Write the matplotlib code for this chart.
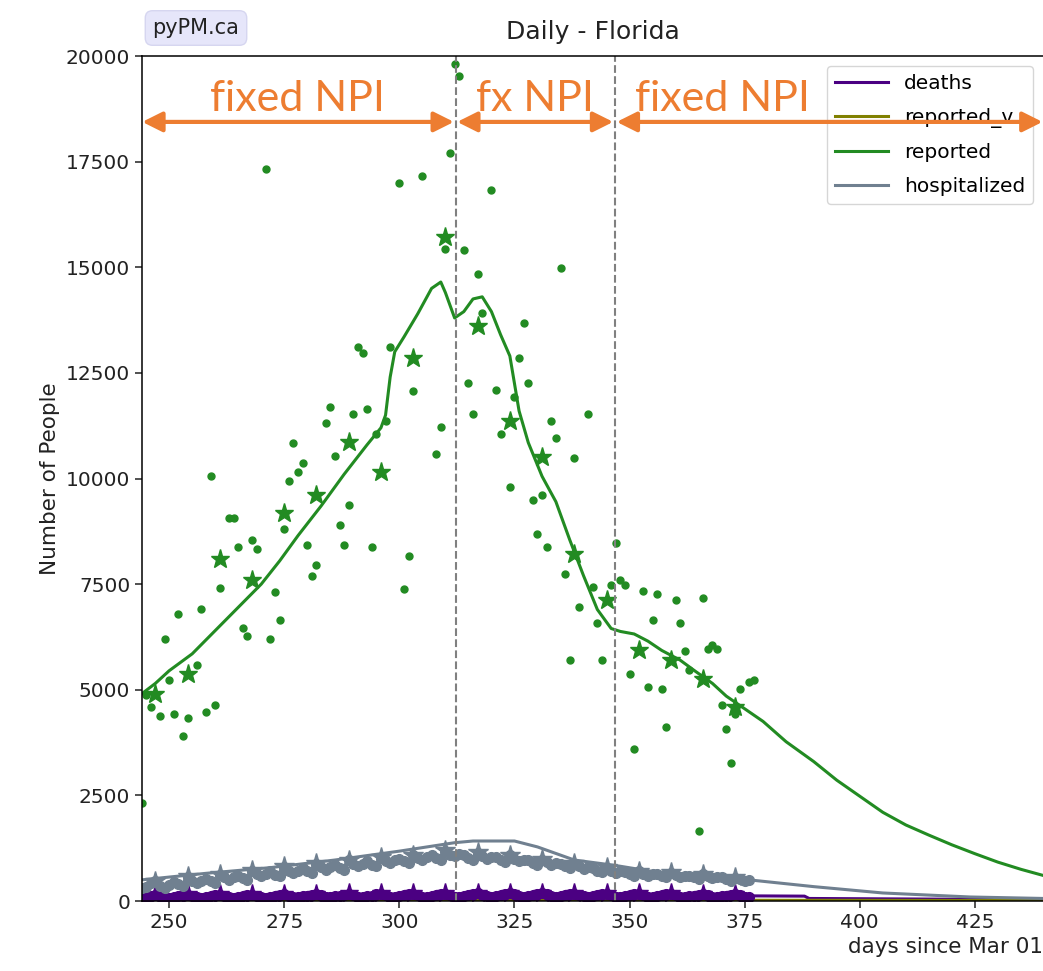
import numpy as np
import matplotlib
matplotlib.use('Agg')
import matplotlib.pyplot as plt

# --- reported cases, daily points (day since Mar 01, cases) ---
rep_days = [244, 245, 246, 248, 249, 250, 251, 252, 253, 254, 256, 257, 258, 259, 260,
            261, 263, 264, 265, 266, 267, 268, 269, 271, 272, 273, 274, 275, 276, 277,
            278, 279, 280, 281, 282, 284, 285, 286, 287, 288, 289, 290, 291, 292, 293,
            294, 295, 297, 298, 300, 301, 302, 303, 305, 308, 309, 310, 311, 312, 313,
            314, 315, 316, 317, 318, 320, 321, 322, 324, 325, 326, 327, 328, 329, 330,
            331, 332, 333, 334, 335, 336, 337, 338, 339, 341, 342, 343, 344, 346, 347,
            348, 349, 350, 351, 353, 354, 355, 356, 357, 358, 360, 361, 362, 363, 365,
            366, 367, 368, 369, 370, 371, 372, 373, 374, 376, 377]
rep_vals = [2317, 4870, 4594, 4378, 6210, 5225, 4434, 6801, 3906, 4331, 5579, 6903, 4473, 10063, 4634,
            7407, 9061, 9061, 8376, 6470, 6272, 8534, 8322, 17320, 6210, 7313, 6643, 8794, 9946, 10844,
            10149, 10371, 8433, 7690, 7960, 11316, 11686, 10527, 8903, 8416, 9378, 11529, 13104, 12963, 11647,
            8376, 11055, 11371, 13104, 16990, 7376, 8163, 12064, 17162, 10590, 11212, 15427, 17713, 19811, 19527,
            15412, 12262, 11529, 14838, 13908, 16832, 12104, 11055, 9795, 11922, 12844, 13681, 12262, 9480, 8691,
            9598, 8376, 11371, 10950, 14988, 7746, 5697, 10478, 6958, 11529, 7430, 6588, 5697, 7470, 8479,
            7589, 7485, 5383, 3593, 7329, 5067, 6643, 7272, 5012, 4118, 7116, 6588, 5910, 5461, 1655,
            7170, 5957, 6052, 5957, 4634, 4066, 3278, 4434, 5012, 5184, 5225]

# weekly markers (stars)
week_days = [247, 254, 261, 268, 275, 282, 289, 296, 303, 310, 317, 324, 331, 338, 345,
             352, 359, 366, 373]
rep_week = [4908, 5383, 8085, 7589, 9180, 9598, 10858, 10149, 12852, 15705, 13617, 11371,
            10502, 8219, 7116, 5934, 5697, 5265, 4594]

# model curve for reported
mod_days = [244, 247, 250, 255, 260, 265, 270, 274, 278, 283, 288, 293, 296, 297, 298,
            299, 301, 304, 307, 309, 310, 312, 314, 316, 318, 320, 322, 324, 325, 326,
            328, 331, 334, 337, 340, 343, 346, 348, 351, 354, 357, 361, 364, 368, 371,
            375, 379, 384, 390, 395, 400, 405, 410, 415, 420, 425, 430, 435, 440]
mod_rep = [4900, 5150, 5450, 5850, 6400, 6950, 7500, 8050, 8650, 9350, 10100, 10800, 11200, 11500, 12400,
           13000, 13350, 13900, 14500, 14650, 14400, 13800, 13950, 14250, 14300, 13950, 13400, 12900, 12250, 11600,
           10850, 10050, 9450, 8550, 7700, 6900, 6450, 6380, 6320, 6150, 5930, 5700, 5460, 5150, 4850,
           4550, 4250, 3770, 3300, 2860, 2480, 2100, 1800, 1560, 1330, 1120, 920, 750, 600]

# hospitalized data (daily, days 244..376)
hosp_start = 244
hosp_vals = [300, 330, 420, 480, 360, 310, 380,
             440, 400, 350, 560, 470, 420, 480,
             520, 470, 430, 620, 560, 500, 560,
             600, 540, 500, 720, 640, 580, 640,
             700, 620, 580, 800, 720, 660, 720,
             780, 700, 660, 880, 800, 740, 800,
             860, 780, 740, 960, 880, 820, 880,
             940, 860, 820, 1020, 950, 900, 960,
             1000, 940, 900, 1080, 1020, 960, 1040,
             1080, 1020, 980, 1180, 1100, 1060, 1120,
             1100, 1020, 980, 1130, 1060, 1000, 1050,
             1050, 980, 930, 1080, 1000, 940, 980,
             960, 900, 850, 980, 920, 860, 900,
             880, 820, 780, 880, 820, 760, 800,
             780, 720, 680, 790, 720, 670, 700,
             690, 640, 600, 700, 650, 600, 640,
             640, 590, 560, 670, 610, 560, 600,
             600, 560, 520, 630, 580, 540, 560,
             560, 520, 480, 550, 520, 480, 500]
hosp_week = [480, 580, 650, 740, 820, 900, 980, 1050, 1100, 1200, 1150, 1100, 1000, 900,
             800, 720, 680, 640, 560]
hosp_mod_days = [244, 258, 272, 286, 300, 312, 316, 325, 330, 338, 347, 356, 365, 376,
                 390, 405, 424, 440]
hosp_mod = [500, 655, 790, 970, 1180, 1380, 1420, 1420, 1280, 970, 840, 680, 580, 500,
            340, 190, 95, 60]

# deaths data (daily, days 244..376)
death_vals = [90, 105, 125, 135, 115, 80, 70,
              95, 110, 130, 140, 120, 85, 75,
              100, 115, 135, 145, 125, 90, 80,
              100, 120, 140, 150, 130, 90, 80,
              105, 120, 145, 155, 130, 95, 85,
              110, 125, 150, 160, 135, 95, 85,
              110, 130, 150, 165, 140, 100, 90,
              115, 130, 155, 165, 140, 100, 90,
              115, 135, 160, 170, 145, 105, 95,
              120, 140, 160, 175, 150, 105, 95,
              125, 140, 165, 180, 150, 110, 100,
              125, 145, 165, 180, 155, 110, 100,
              125, 145, 170, 180, 155, 110, 100,
              125, 140, 165, 175, 150, 110, 100,
              120, 140, 160, 175, 150, 105, 95,
              120, 135, 160, 170, 145, 105, 95,
              115, 135, 155, 165, 140, 100, 90,
              115, 130, 150, 160, 140, 100, 90,
              110, 125, 150, 160, 135, 95, 85]
death_week = [150, 155, 160, 165, 170, 175, 180, 180, 185, 190, 195, 195, 200, 195, 190,
              185, 180, 175, 170]
death_mod_days = [244, 270, 300, 330, 360, 388, 389, 424, 440]
death_mod = [105, 115, 125, 135, 130, 115, 60, 40, 30]

repv_days = [244, 300, 350, 440]
repv_mod = [12, 20, 20, 12]

# NPI periods
npi_breaks = [312.2, 346.8]
npi_labels = ['fixed NPI', 'fx NPI', 'fixed NPI']

c_death = '#4B0082'
c_repv = '#808000'
c_rep = '#228B22'
c_hosp = '#708090'
orange = '#ED7D31'

fig = plt.figure(figsize=(10.43, 9.71), dpi=100)
ax = fig.add_axes([142/1043, 70/971, (1043-142)/1043, 845/971])

hosp_days = np.arange(hosp_start, hosp_start + len(hosp_vals))
death_days = np.arange(hosp_start, hosp_start + len(death_vals))

# model lines
ax.plot(death_mod_days, death_mod, color=c_death, lw=2.2, label='deaths')
ax.plot(repv_days, repv_mod, color=c_repv, lw=2.2, label='reported_v')
ax.plot(mod_days, mod_rep, color=c_rep, lw=2.2, label='reported')
ax.plot(hosp_mod_days, hosp_mod, color=c_hosp, lw=2.2, label='hospitalized')

# data
ax.plot(death_days, death_vals, 'o', color=c_death, ms=7)
ax.plot(week_days, death_week, '*', color=c_death, ms=14)
ax.plot(hosp_days, hosp_vals, 'o', color=c_hosp, ms=7)
ax.plot(hosp_days, hosp_vals, '-', color=c_hosp, lw=3)
ax.plot(week_days, hosp_week, '*', color=c_hosp, ms=15)
ax.plot(rep_days, rep_vals, 'o', color=c_rep, ms=5)
ax.plot(week_days, rep_week, '*', color=c_rep, ms=14)

for b in npi_breaks:
    ax.axvline(b, color='gray', ls='--', lw=1.5)

ax.set_xlim(244.1, 439.8)
ax.set_ylim(0, 20000)
ax.set_xticks([250, 275, 300, 325, 350, 375, 400, 425])
ax.set_yticks(np.arange(0, 20001, 2500))
ax.tick_params(labelsize=14.5, length=5, width=1.1, colors='#222222')
for s in ax.spines.values():
    s.set_linewidth(1.1)
ax.spines['right'].set_visible(False)

ax.set_title('Daily - Florida', fontsize=18, pad=12, color='#222222')
ax.set_xlabel('days since Mar 01', fontsize=15.5, loc='right', color='#222222')
ax.set_ylabel('Number of People', fontsize=15.5, color='#222222')

leg = ax.legend(loc='upper right', fontsize=14.5, handlelength=2.6, labelspacing=0.75)
leg.set_zorder(4)

# NPI annotations
y_arrow = 18440
edges = [244.15, npi_breaks[0], npi_breaks[1], 439.7]
gaps = [0, 0.35, 0.4]
for i in range(3):
    x0 = edges[i] + gaps[i]
    x1 = edges[i + 1] - (0.35 if i < 2 else 0)
    ax.annotate('', xy=(x1, y_arrow), xytext=(x0, y_arrow),
                arrowprops=dict(arrowstyle='<|-|>', mutation_scale=30, lw=3,
                                color=orange, shrinkA=0, shrinkB=0),
                zorder=6, annotation_clip=False)
label_x = [277.8, 329.5, 370.1]
for x, t in zip(label_x, npi_labels):
    ax.text(x, 18700, t, color=orange, fontsize=31, family='Lato',
            ha='center', va='baseline', zorder=6)

fig.text(196/1043, 1 - 28/971, 'pyPM.ca', fontsize=15, ha='center', va='center',
         color='#222222',
         bbox=dict(boxstyle='round,pad=0.35', facecolor='#E6E6FA', edgecolor='#D6D6F0'))

fig.savefig('out.png', dpi=100)
